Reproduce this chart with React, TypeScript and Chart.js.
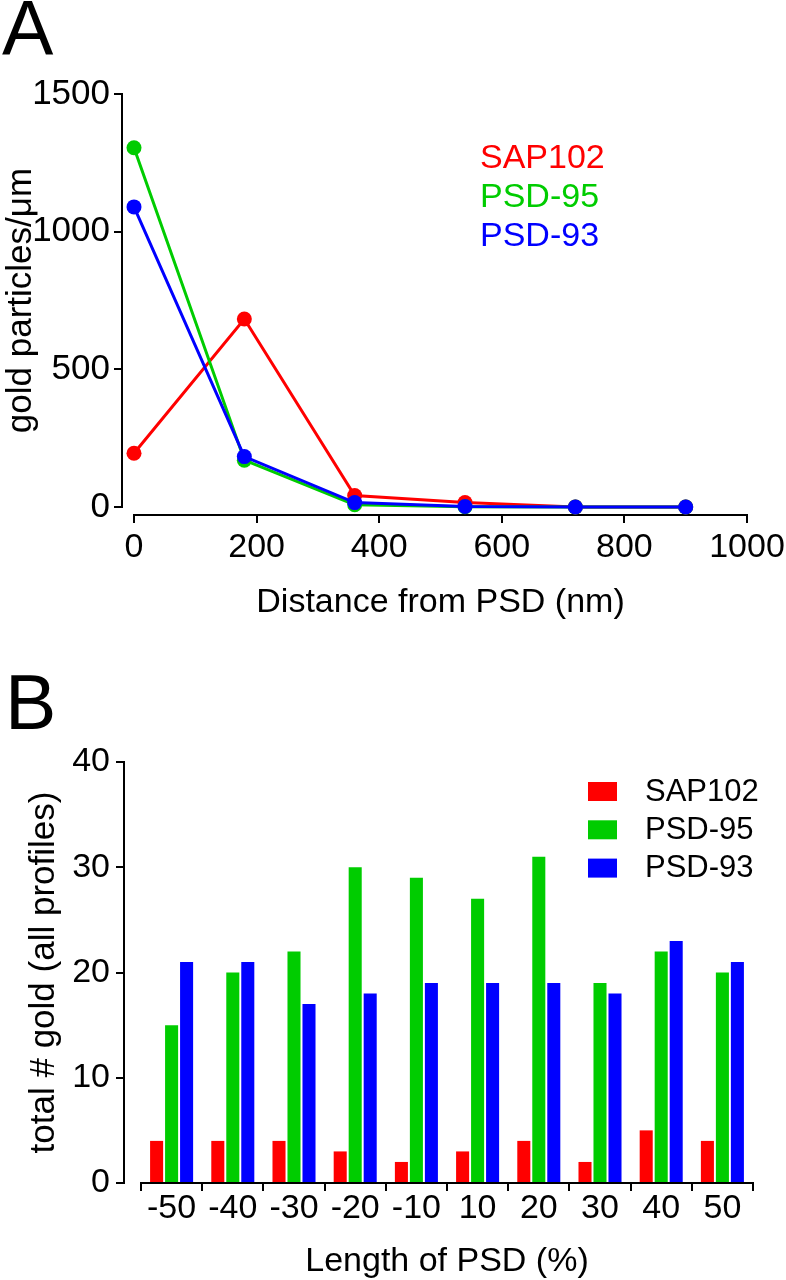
import React, { useEffect, useRef } from "react";
import { Chart, registerables } from "chart.js";

Chart.register(...registerables);

const FONT = "'Liberation Sans', Arial, Helvetica, sans-serif";

// ---------- Panel A data ----------
const distanceNm = [0, 180, 360, 540, 720, 900];
const sap102Density = [195, 683, 42, 16, 0, 0];
const psd95Density = [1305, 170, 8, 1, 0, 0];
const psd93Density = [1090, 183, 16, 2, 0, 0];
const densityTicks = [0, 500, 1000, 1500];
const distanceTicks = [0, 200, 400, 600, 800, 1000];

// ---------- Panel B data ----------
const psdLengthLabels = ["-50", "-40", "-30", "-20", "-10", "10", "20", "30", "40", "50"];
const sap102Counts = [4, 4, 4, 3, 2, 3, 4, 2, 5, 4];
const psd95Counts = [15, 20, 22, 30, 29, 27, 31, 19, 22, 20];
const psd93Counts = [21, 21, 17, 18, 19, 19, 19, 18, 23, 21];
const countTicks = [0, 10, 20, 30, 40];

const seriesNames = ["SAP102", "PSD-95", "PSD-93"];
const seriesColors = ["#ff0000", "#00cc00", "#0000ff"];

const plainNumber = (v: any) => String(v);

const hiddenGap = (axisPos: string, size: number) => ({
  type: "linear",
  position: axisPos,
  weight: 0,
  display: true,
  grid: { display: false },
  border: { display: false },
  ticks: { display: false },
  afterFit: (s: any) => {
    if (axisPos === "left") s.width = size;
    else s.height = size;
    s.paddingLeft = 0; s.paddingRight = 0; s.paddingTop = 0; s.paddingBottom = 0;
  },
});

const legendA = {
  id: "legendA",
  afterDatasetsDraw(chart: any) {
    const { ctx } = chart;
    ctx.save();
    ctx.font = `34px ${FONT}`;
    ctx.textAlign = "left";
    ctx.textBaseline = "alphabetic";
    chart.data.datasets.forEach((ds: any, i: number) => {
      ctx.fillStyle = ds.borderColor;
      ctx.fillText(ds.label, 480, 168 + 39 * i);
    });
    ctx.restore();
  },
};

const legendB = {
  id: "legendB",
  afterDatasetsDraw(chart: any) {
    const { ctx } = chart;
    ctx.save();
    ctx.font = `31px ${FONT}`;
    ctx.textAlign = "left";
    ctx.textBaseline = "alphabetic";
    chart.data.datasets.forEach((ds: any, i: number) => {
      ctx.fillStyle = ds.backgroundColor;
      ctx.fillRect(588, 142 + 38.3 * i, 29, 19);
      ctx.fillStyle = "#000";
      ctx.fillText(ds.label, 645, 161 + 37.8 * i);
    });
    ctx.restore();
  },
};

function LineChartA() {
  const ref = useRef<HTMLCanvasElement>(null);
  useEffect(() => {
    const series = [sap102Density, psd95Density, psd93Density];
    const chart = new Chart(ref.current as HTMLCanvasElement, {
      type: "line",
      data: {
        datasets: series.map((vals, i) => ({
          label: seriesNames[i],
          data: vals.map((v, j) => ({ x: distanceNm[j], y: v })),
          borderColor: seriesColors[i],
          backgroundColor: seriesColors[i],
          pointBackgroundColor: seriesColors[i],
          pointBorderColor: seriesColors[i],
          borderWidth: 3,
          pointRadius: 7.5,
          pointBorderWidth: 0,
          tension: 0,
          fill: false,
          clip: false,
          order: 3 - i,
        })),
      },
      options: {
        responsive: false,
        animation: false,
        devicePixelRatio: 1,
        layout: { padding: { left: 0, right: 39, top: 94, bottom: 0 } },
        plugins: { legend: { display: false }, tooltip: { enabled: false }, title: { display: false } },
        scales: {
          x: {
            type: "linear",
            position: "bottom",
            weight: 1,
            min: 0,
            max: 1000,
            afterBuildTicks: (s: any) => { s.ticks = distanceTicks.map((value) => ({ value })); },
            afterFit: (s: any) => { s.height = 125; s.paddingLeft = 0; s.paddingRight = 0; },
            grid: { drawOnChartArea: false, drawTicks: true, tickLength: 8, color: "#000", lineWidth: 2 },
            border: { display: true, color: "#000", width: 2 },
            ticks: { color: "#000", font: { family: FONT, size: 34, lineHeight: 1 }, padding: 8, maxRotation: 0, autoSkip: false, callback: plainNumber },
            title: { display: true, text: "Distance from PSD (nm)", color: "#000", font: { family: FONT, size: 34, lineHeight: 1 }, padding: { top: 0, bottom: 20 } },
          },
          xGap: hiddenGap("bottom", 8),
          y: {
            type: "linear",
            position: "left",
            weight: 1,
            min: 0,
            max: 1500,
            afterBuildTicks: (s: any) => { s.ticks = densityTicks.map((value) => ({ value })); },
            afterFit: (s: any) => { s.width = 122; s.paddingTop = 0; s.paddingBottom = 0; },
            grid: { drawOnChartArea: false, drawTicks: true, tickLength: 8, color: "#000", lineWidth: 2 },
            border: { display: true, color: "#000", width: 2 },
            ticks: { color: "#000", font: { family: FONT, size: 35, lineHeight: 1 }, padding: 4, callback: plainNumber },
            title: { display: true, text: "gold particles/μm", color: "#000", font: { family: FONT, size: 35, lineHeight: 1 }, padding: { top: 3.5, bottom: 0 } },
          },
          yGap: hiddenGap("left", 12),
        } as any,
      },
      plugins: [legendA],
    } as any);
    return () => chart.destroy();
  }, []);
  return <canvas ref={ref} width={786} height={640} style={{ position: "absolute", left: 0, top: 0, width: 786, height: 640 }} />;
}

function BarChartB() {
  const ref = useRef<HTMLCanvasElement>(null);
  useEffect(() => {
    const series = [sap102Counts, psd95Counts, psd93Counts];
    const chart = new Chart(ref.current as HTMLCanvasElement, {
      type: "bar",
      data: {
        labels: psdLengthLabels,
        datasets: series.map((vals, i) => ({
          label: seriesNames[i],
          data: vals,
          backgroundColor: seriesColors[i],
          borderWidth: 0,
          barPercentage: 0.87,
          categoryPercentage: 0.735,
        })),
      },
      options: {
        responsive: false,
        animation: false,
        devicePixelRatio: 1,
        layout: { padding: { left: 0, right: 33, top: 122, bottom: 0 } },
        plugins: { legend: { display: false }, tooltip: { enabled: false }, title: { display: false } },
        scales: {
          x: {
            type: "category",
            position: "bottom",
            weight: 1,
            offset: true,
            afterFit: (s: any) => { s.height = 97; s.paddingLeft = 0; s.paddingRight = 0; },
            grid: { offset: true, drawOnChartArea: false, drawTicks: true, tickLength: 8, color: "#000", lineWidth: 2 },
            border: { display: true, color: "#000", width: 2 },
            ticks: { color: "#000", font: { family: FONT, size: 34, lineHeight: 1 }, padding: 1, maxRotation: 0, autoSkip: false },
            title: { display: true, text: "Length of PSD (%)", color: "#000", font: { family: FONT, size: 34, lineHeight: 1 }, padding: { top: 0, bottom: 1.5 } },
          },
          y: {
            type: "linear",
            position: "left",
            weight: 1,
            min: 0,
            max: 40,
            afterBuildTicks: (s: any) => { s.ticks = countTicks.map((value) => ({ value })); },
            afterFit: (s: any) => { s.width = 124; s.paddingTop = 0; s.paddingBottom = 0; },
            grid: { drawOnChartArea: false, drawTicks: true, tickLength: 8, color: "#000", lineWidth: 2 },
            border: { display: true, color: "#000", width: 2 },
            ticks: { color: "#000", font: { family: FONT, size: 34, lineHeight: 1 }, padding: 6, callback: plainNumber },
            title: { display: true, text: "total # gold (all profiles)", color: "#000", font: { family: FONT, size: 35, lineHeight: 1 }, padding: { top: 26.5, bottom: 0 } },
          },
          yGap: hiddenGap("left", 17),
        } as any,
      },
      plugins: [legendB],
    } as any);
    return () => chart.destroy();
  }, []);
  return <canvas ref={ref} width={786} height={640} style={{ position: "absolute", left: 0, top: 640, width: 786, height: 640 }} />;
}

const panelLetter: React.CSSProperties = {
  position: "absolute",
  left: 2,
  fontFamily: FONT,
  fontSize: 77,
  lineHeight: "77px",
  color: "#000",
  margin: 0,
};

export default function App() {
  return (
    <div style={{ position: "absolute", left: 0, top: 0, width: 786, height: 1280, background: "#fff", overflow: "hidden" }}>
      <LineChartA />
      <BarChartB />
      <div style={{ ...panelLetter, top: -10 }}>A</div>
      <div style={{ ...panelLetter, top: 664, left: 5 }}>B</div>
    </div>
  );
}
